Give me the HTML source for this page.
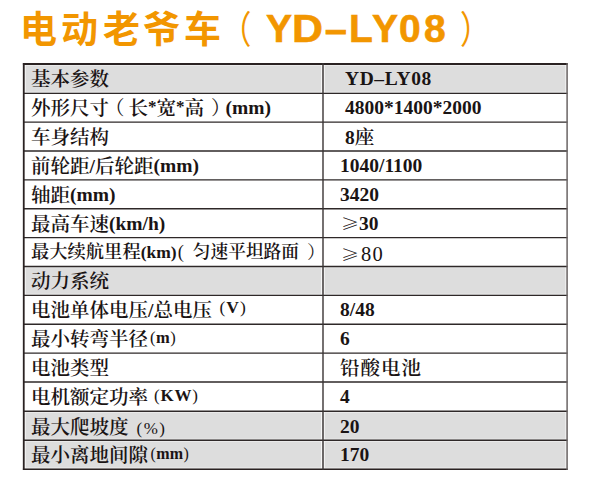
<!DOCTYPE html>
<html lang="zh-CN">
<head>
<meta charset="utf-8">
<title>电动老爷车（YD-LY08）</title>
<style>
html,body{margin:0;padding:0;background:#fff;}
body{width:600px;height:479px;position:relative;overflow:hidden;}
.t{position:absolute;top:0;left:0;white-space:nowrap;color:#f29600;
  font-family:"Liberation Sans","Noto Sans CJK SC",sans-serif;font-weight:700;font-size:38px;line-height:56px;}
.t span{position:absolute;top:0;}
.tc{font-family:"Noto Sans CJK SC",sans-serif;font-size:37px;top:-1px!important;}
.tl{font-family:"Liberation Sans",sans-serif;font-size:39px;-webkit-text-stroke:0.6px #f29600;top:1px!important;}
.tp{font-family:"Noto Sans CJK SC",sans-serif;font-weight:400;font-size:38px;top:-1px!important;transform:scaleX(0.8);transform-origin:0 0;}
.grid{position:absolute;left:0;top:0;}
.cell{position:absolute;white-space:nowrap;color:#1a1414;line-height:20px;
  font-family:"Liberation Serif","Noto Serif CJK SC",serif;font-weight:600;font-size:19.5px;}
.u{font-size:17px;position:relative;top:-2.5px;}
.la{position:relative;top:-1px;}
.u i{font-style:normal;font-weight:400;}
.fp{position:relative;font-weight:400;}
.ast{font-size:17px;position:relative;top:-3px;}
.r6{font-size:18.3px;}
.lt{font-weight:700;font-size:17.5px;}
.ge{font-family:"Noto Serif CJK SC",serif;font-weight:600;font-size:18px;display:inline-block;transform:scaleY(0.88);transform-origin:0 15px;}
.rg{font-weight:400;font-size:20.5px;letter-spacing:1.2px;margin-left:2px;}
</style>
</head>
<body>
<div class="t">
  <span class="tc" style="left:20px">电</span>
  <span class="tc" style="left:61px">动</span>
  <span class="tc" style="left:103px">老</span>
  <span class="tc" style="left:143px">爷</span>
  <span class="tc" style="left:184px">车</span>
  <span class="tp" style="left:221px">（</span>
  <span class="tl" style="left:266px">Y</span>
  <span class="tl" style="left:292px;transform:scaleX(1.1);transform-origin:0 0">D</span>
  <span class="tl" style="left:325px;top:2px!important;-webkit-text-stroke:1px #f29600">–</span>
  <span class="tl" style="left:349px">L</span>
  <span class="tl" style="left:372px">Y</span>
  <span class="tl" style="left:399px">0</span>
  <span class="tl" style="left:424px">8</span>
  <span class="tp" style="left:460px">）</span>
</div>

<!-- grid -->
<svg class="grid" width="600" height="479" viewBox="0 0 600 479">
<g fill="#dddddd">
<rect x="24" y="64" width="543" height="29.40"/>
<rect x="24" y="266.50" width="543" height="28.90"/>
<rect x="24" y="411.30" width="543" height="57.90"/>
</g>
<g fill="#fff" fill-opacity="0.75">
<rect x="24.7" y="65.0" width="1" height="27.7"/>
<rect x="321.0" y="65.0" width="1" height="27.7"/>
<rect x="323.8" y="65.0" width="1" height="27.7"/>
<rect x="565.4" y="65.0" width="1" height="27.7"/>
<rect x="24.7" y="267.2" width="1" height="27.5"/>
<rect x="321.0" y="267.2" width="1" height="27.5"/>
<rect x="323.8" y="267.2" width="1" height="27.5"/>
<rect x="565.4" y="267.2" width="1" height="27.5"/>
<rect x="24.7" y="412.0" width="1" height="27.6"/>
<rect x="321.0" y="412.0" width="1" height="27.6"/>
<rect x="323.8" y="412.0" width="1" height="27.6"/>
<rect x="565.4" y="412.0" width="1" height="27.6"/>
<rect x="24.7" y="441.0" width="1" height="27.4"/>
<rect x="321.0" y="441.0" width="1" height="27.4"/>
<rect x="323.8" y="441.0" width="1" height="27.4"/>
<rect x="565.4" y="441.0" width="1" height="27.4"/>
</g>
<g fill="#fff" fill-opacity="0.4">
<rect x="25" y="65.0" width="541" height="1"/>
<rect x="25" y="91.7" width="541" height="1"/>
<rect x="25" y="267.2" width="541" height="1"/>
<rect x="25" y="293.7" width="541" height="1"/>
<rect x="25" y="412.0" width="541" height="1"/>
<rect x="25" y="438.6" width="541" height="1"/>
<rect x="25" y="441.0" width="541" height="1"/>
<rect x="25" y="467.4" width="541" height="1"/>
</g>
<g stroke="#2e2828" stroke-width="1.4" fill="none">
<line x1="23" y1="93.40" x2="567.5" y2="93.40"/>
<line x1="23" y1="122.10" x2="567.5" y2="122.10"/>
<line x1="23" y1="151.00" x2="567.5" y2="151.00"/>
<line x1="23" y1="179.90" x2="567.5" y2="179.90"/>
<line x1="23" y1="208.80" x2="567.5" y2="208.80"/>
<line x1="23" y1="237.60" x2="567.5" y2="237.60"/>
<line x1="23" y1="266.50" x2="567.5" y2="266.50"/>
<line x1="23" y1="295.40" x2="567.5" y2="295.40"/>
<line x1="23" y1="324.20" x2="567.5" y2="324.20"/>
<line x1="23" y1="353.10" x2="567.5" y2="353.10"/>
<line x1="23" y1="382.00" x2="567.5" y2="382.00"/>
<line x1="23" y1="411.30" x2="567.5" y2="411.30"/>
<line x1="23" y1="440.30" x2="567.5" y2="440.30"/>
</g>
<line x1="22.9" y1="64" x2="567.8" y2="64" stroke="#2a2222" stroke-width="2"/>
<line x1="22.9" y1="469.25" x2="567.8" y2="469.25" stroke="#2a2222" stroke-width="1.6"/>
<line x1="23.75" y1="63" x2="23.75" y2="470" stroke="#2a2222" stroke-width="1.8"/>
<line x1="323" y1="63" x2="323" y2="470" stroke="#3a3434" stroke-width="1.4"/>
<line x1="567.1" y1="63" x2="567.1" y2="470" stroke="#6a6464" stroke-width="1.5"/>
</svg>

<!-- left column -->
<div class="cell" style="left:31px;top:70px">基本参数</div>
<div class="cell" style="left:31px;top:99px">外形尺寸<span class="fp" style="left:-4px">（</span>长<span class="ast">*</span>宽<span class="ast">*</span>高<span class="fp" style="left:7px">）</span><span class="la" style="margin-left:2px">(mm)</span></div>
<div class="cell" style="left:31px;top:128px">车身结构</div>
<div class="cell" style="left:31px;top:157px">前轮距/后轮距<span class="la">(mm)</span></div>
<div class="cell" style="left:31px;top:186px">轴距<span class="la">(mm)</span></div>
<div class="cell" style="left:31px;top:215px">最高车速<span class="la">(km/h)</span></div>
<div class="cell r6" style="left:31px;top:242px">最大续航里程<span class="lt">(km)</span><span class="lt" style="font-weight:400;font-size:18.5px;margin-left:1px">(</span><span style="margin-left:9px;font-size:17.7px">匀速平坦路面</span><span class="fp" style="left:8px">）</span></div>
<div class="cell" style="left:31px;top:272px">动力系统</div>
<div class="cell" style="left:31px;top:301px">电池单体电压/总电压<span class="u" style="margin-left:7.5px;font-size:17.5px;letter-spacing:1px;top:-4px"><i>(</i>V<i>)</i></span></div>
<div class="cell" style="left:31px;top:330px">最小转弯半径<span class="u" style="margin-left:2px;font-size:16.5px;letter-spacing:0.5px;top:-3px"><i>(</i>m<i>)</i></span></div>
<div class="cell" style="left:31px;top:359px">电池类型</div>
<div class="cell" style="left:31px;top:388px">电机额定功率<span class="u" style="margin-left:6px;letter-spacing:0.8px;top:-3.5px"><i>(</i>KW<i>)</i></span></div>
<div class="cell" style="left:31px;top:418px">最大爬坡度<span class="u" style="margin-left:8px;font-size:17px;letter-spacing:1.5px;top:-0.5px"><i>(</i><i>%</i><i>)</i></span></div>
<div class="cell" style="left:31px;top:446px">最小离地间隙<span class="u" style="margin-left:2.5px;font-size:16px;letter-spacing:0.3px;top:-3.5px"><i>(</i>mm<i>)</i></span></div>

<!-- right column -->
<div class="cell" style="left:345px;top:69px;letter-spacing:0.6px">YD–LY08</div>
<div class="cell" style="left:345px;top:98px">4800*1400*2000</div>
<div class="cell" style="left:345px;top:128px">8座</div>
<div class="cell" style="left:340px;top:156px">1040/1100</div>
<div class="cell" style="left:340px;top:185px">3420</div>
<div class="cell" style="left:341px;top:212px"><span class="ge">≥</span>30</div>
<div class="cell" style="left:341px;top:243px"><span class="ge">≥</span><span class="rg">80</span></div>
<div class="cell" style="left:340px;top:300px">8/48</div>
<div class="cell" style="left:340px;top:329px">6</div>
<div class="cell" style="left:340px;top:359px;letter-spacing:1px">铅酸电池</div>
<div class="cell" style="left:340px;top:387px">4</div>
<div class="cell" style="left:340px;top:417px">20</div>
<div class="cell" style="left:340px;top:445px">170</div>
</body>
</html>
